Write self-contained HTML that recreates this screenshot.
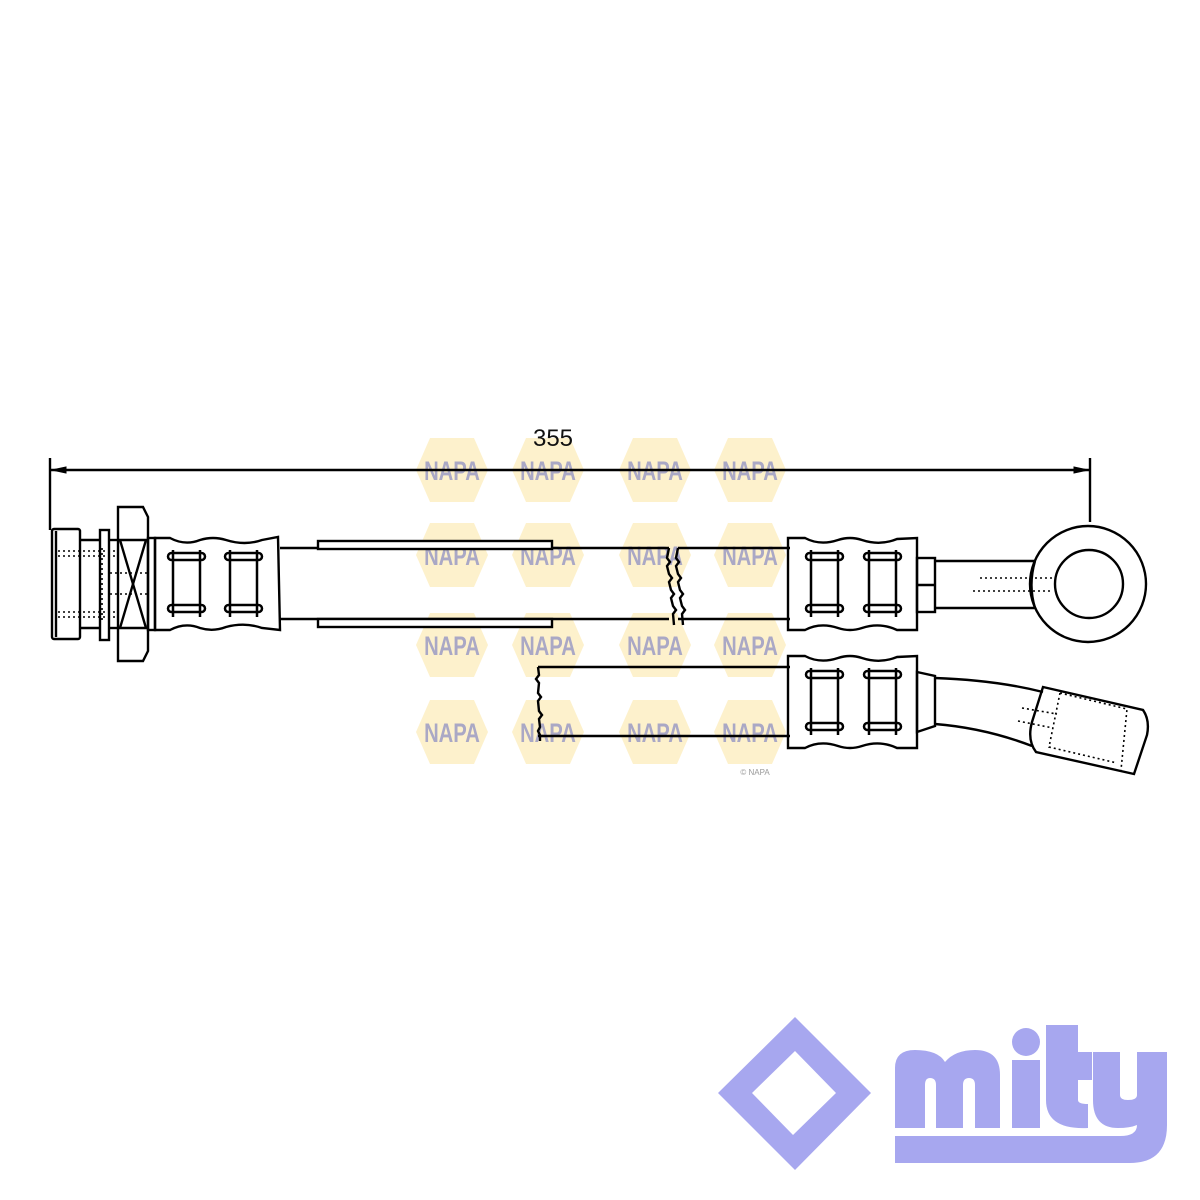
<!DOCTYPE html>
<html><head><meta charset="utf-8"><style>html,body{margin:0;padding:0;background:#fff}svg{display:block}</style></head>
<body>
<svg width="1200" height="1200" viewBox="0 0 1200 1200" xmlns="http://www.w3.org/2000/svg">
<defs>
<g id="napa">
<polygon points="-22,-32 22,-32 36,0 22,32 -22,32 -36,0" fill="#fbe39a" opacity="0.5"/>
<text x="0" y="10" text-anchor="middle" font-family="Liberation Sans, sans-serif" font-weight="bold" font-size="27" fill="#5a62c0" opacity="0.5" transform="scale(0.75,1)">NAPA</text>
</g>
<g id="bob" fill="none" stroke="#000" stroke-width="2.5">
<line x1="3" y1="550" x2="3" y2="617"/><line x1="30" y1="550" x2="30" y2="617"/>
<rect x="-2" y="553" width="37" height="7" rx="3.5"/>
<rect x="-2" y="605" width="37" height="7" rx="3.5"/>
</g>
</defs>
<g>
<use href="#napa" x="452" y="470"/><use href="#napa" x="548" y="470"/><use href="#napa" x="655" y="470"/><use href="#napa" x="750" y="470"/>
<use href="#napa" x="452" y="555"/><use href="#napa" x="548" y="555"/><use href="#napa" x="655" y="555"/><use href="#napa" x="750" y="555"/>
<use href="#napa" x="452" y="645"/><use href="#napa" x="548" y="645"/><use href="#napa" x="655" y="645"/><use href="#napa" x="750" y="645"/>
<use href="#napa" x="452" y="732"/><use href="#napa" x="548" y="732"/><use href="#napa" x="655" y="732"/><use href="#napa" x="750" y="732"/>
</g>
<text x="755" y="775" font-family="Liberation Sans, sans-serif" font-size="8" fill="#999" text-anchor="middle">© NAPA</text>

<g stroke="#000" stroke-width="2.4" fill="none">
<line x1="50" y1="458" x2="50" y2="530"/><line x1="1090" y1="458" x2="1090" y2="522"/>
<line x1="50" y1="470" x2="1090" y2="470"/>
<polygon points="52,470 66,467 66,473" fill="#000" stroke-width="1"/>
<polygon points="1088,470 1074,467 1074,473" fill="#000" stroke-width="1"/>
<rect x="52" y="529" width="28" height="110" rx="2"/>
<line x1="56" y1="531" x2="56" y2="637"/>
<line x1="80" y1="540" x2="100" y2="540"/><line x1="80" y1="628" x2="100" y2="628"/>
<rect x="100" y="530" width="9" height="110"/>
<line x1="109" y1="540" x2="118" y2="540"/><line x1="109" y1="628" x2="118" y2="628"/>
<path d="M118,507 L143,507 L148,517 L148,651 L143,661 L118,661 Z"/>
<line x1="118" y1="540" x2="148" y2="540"/><line x1="118" y1="628" x2="148" y2="628"/>
<line x1="120" y1="540" x2="146" y2="628"/><line x1="146" y1="540" x2="120" y2="628"/>
<rect x="148" y="538" width="7" height="92"/>
<g stroke-dasharray="2,3" stroke-width="1.6">
<line x1="58" y1="551" x2="118" y2="551"/><line x1="58" y1="556" x2="118" y2="556"/>
<line x1="58" y1="612" x2="118" y2="612"/><line x1="58" y1="617" x2="118" y2="617"/>
<line x1="110" y1="573" x2="148" y2="573"/><line x1="110" y1="594" x2="148" y2="594"/>
<line x1="102" y1="548" x2="102" y2="620"/>
</g>
<path d="M155,538 L170,538 Q185,546 200,540 Q213,536 226,540 Q245,546 262,540 L278,537 L280,630 L262,628 Q245,622 226,627 Q213,632 200,628 Q185,622 170,630 L155,630 Z"/>
<line x1="280" y1="548" x2="669" y2="548"/><line x1="280" y1="619" x2="669" y2="619"/>
<line x1="678" y1="548" x2="790" y2="548"/><line x1="678" y1="619" x2="790" y2="619"/>
<rect x="318" y="541" width="234" height="8" fill="#fff"/>
<rect x="318" y="619" width="234" height="8" fill="#fff"/>
<path d="M669,548 l-2,10 3,4 -3,4 2,8 3,4 -3,4 2,8 3,4 -3,4 2,8 3,4 -3,4 1,11"/>
<path d="M678,548 l-2,10 3,4 -3,4 2,8 3,4 -3,4 2,8 3,4 -3,4 2,8 3,4 -3,4 1,11"/>
<line x1="538" y1="667" x2="790" y2="667"/><line x1="538" y1="736" x2="790" y2="736"/>
<path d="M538,667 l1,8 -3,4 3,4 -1,10 3,4 -3,4 1,10 3,4 -3,4 1,8 -2,4 2,4 0,6"/>
<path d="M788,538 L805,538 Q820,546 838,540 Q850,536 862,540 Q880,546 897,539 L917,538 L917,630 L897,630 Q880,622 862,628 Q850,632 838,628 Q820,622 805,630 L788,630 Z"/>
<rect x="917" y="558" width="18" height="54"/>
<line x1="917" y1="585" x2="935" y2="585"/>
<circle cx="1088" cy="584" r="58"/>
<path d="M935,561 L1035,561 M935,608 L1035,608"/>
<path d="M1035,561 Q1028,585 1035,608"/>
<circle cx="1089" cy="584" r="34"/>
<g stroke-dasharray="2,3" stroke-width="1.6">
<line x1="980" y1="578" x2="1052" y2="578"/><line x1="973" y1="591" x2="1050" y2="591"/>
</g>
<path d="M788,656 L805,656 Q820,664 838,658 Q850,654 862,658 Q880,664 897,657 L917,656 L917,748 L897,748 Q880,740 862,746 Q850,750 838,746 Q820,740 805,748 L788,748 Z"/>
<path d="M917,672 L935,676 L935,726 L917,732 Z"/>
<path d="M935,678 Q995,680 1043,692"/><path d="M935,724 Q985,728 1032,746"/>
<path d="M1043,687 L1143,710 Q1150,720 1147,735 L1134,774 L1036,752 Q1027,740 1032,722 Z"/>
<g stroke-dasharray="2,3" stroke-width="1.6">
<path d="M1060,693 L1127,709 L1121,770"/><path d="M1060,693 L1049,747 L1117,763"/>
<line x1="1022" y1="708" x2="1057" y2="714"/><line x1="1018" y1="721" x2="1053" y2="728"/>
</g>
</g>
<use href="#bob" x="170"/><use href="#bob" x="227"/>
<use href="#bob" x="808"/><use href="#bob" x="866"/>
<use href="#bob" x="808" y="118"/><use href="#bob" x="866" y="118"/>

<text x="553" y="446" text-anchor="middle" font-family="Liberation Sans, sans-serif" font-size="24" fill="#111">355</text>

<g fill="#a7a7ef">
<path fill-rule="evenodd" d="M795,1017 L871,1093 L795,1170 L718,1093 Z M795,1051 L752,1093 L793,1135 L836,1093 Z"/>
<path d="M895,1128 L895,1068 Q895,1050 915,1050 Q938,1050 945,1062 Q955,1050 975,1050 Q1000,1050 1000,1075 L1000,1128 L975,1128 L975,1085 Q975,1078 969,1078 Q963,1078 963,1085 L963,1128 L936,1128 L936,1085 Q936,1078 930,1078 Q925,1078 925,1085 L925,1128 Z"/>
<circle cx="1026" cy="1042" r="14"/>
<rect x="1012" y="1060" width="28" height="68"/>
<path d="M1046,1025 L1078,1025 L1078,1052 L1092,1052 L1092,1080 L1078,1080 L1078,1100 Q1078,1104 1088,1104 L1088,1128 Q1046,1130 1046,1100 Z"/>
<path d="M1093,1052 L1120,1052 L1120,1095 Q1120,1100 1128,1100 Q1137,1100 1137,1095 L1137,1052 L1167,1052 L1167,1125 Q1167,1163 1130,1163 L895,1163 L895,1136 L1120,1136 Q1137,1136 1137,1125 Q1130,1128 1118,1128 Q1093,1128 1093,1100 Z"/>
</g>
</svg>
</body></html>
